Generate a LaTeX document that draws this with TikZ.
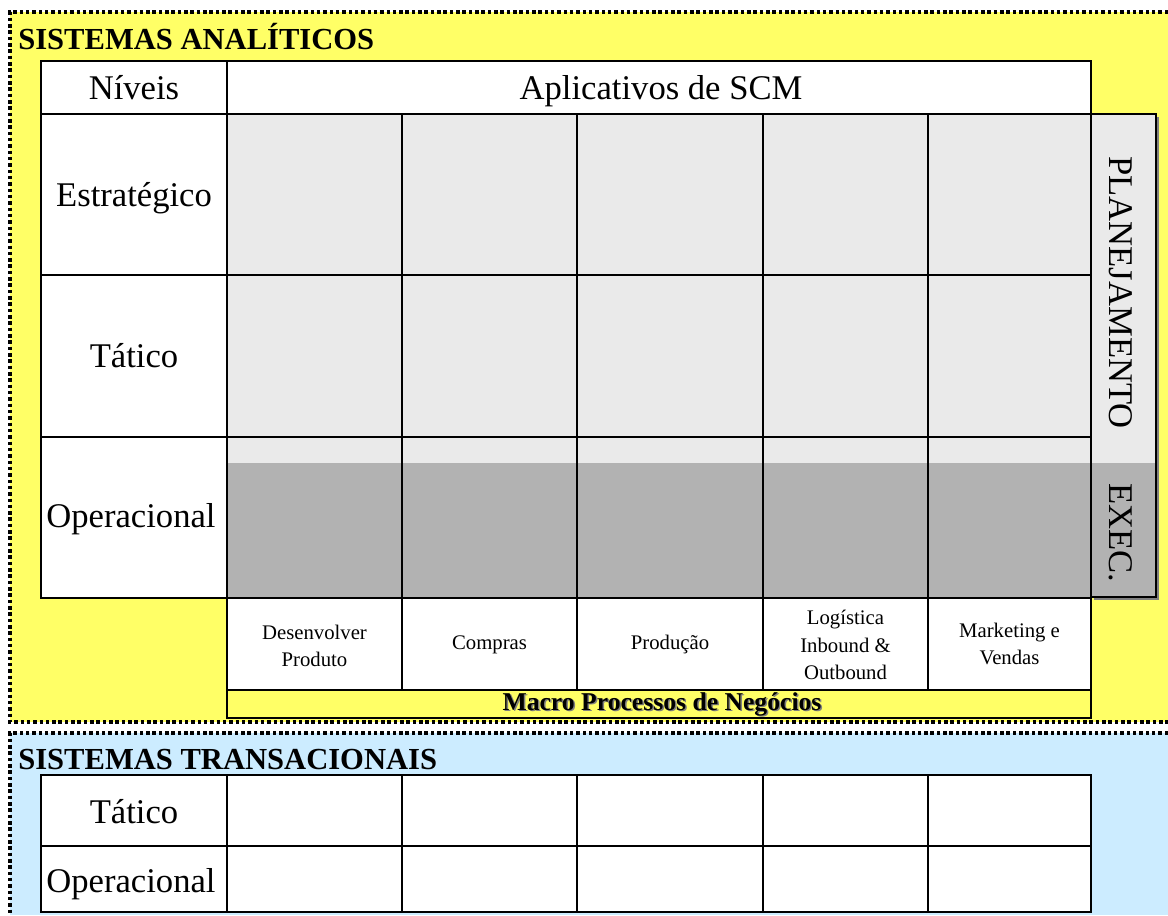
\documentclass[tikz,border=0pt]{standalone}
\usepackage{fontspec}
\setmainfont{Liberation Serif}
\usepackage{tikz}
\usetikzlibrary{backgrounds}
\definecolor{analitico}{RGB}{255,255,102}
\definecolor{transacional}{RGB}{204,236,255}
\definecolor{planclaro}{RGB}{234,234,234}
\definecolor{execescuro}{RGB}{178,178,178}
\tikzstyle{grade}=[draw=black, line width=0.9pt]
\tikzstyle{pontilhado}=[draw=black, line width=2.1pt, dash pattern=on 2pt off 1.6pt]
\tikzstyle{titulo}=[font=\fontsize{17.4}{20}\selectfont\bfseries, anchor=base west, inner sep=0pt]
\tikzstyle{nivel}=[font=\fontsize{19.7}{23}\selectfont, anchor=base, inner sep=0pt]
\tikzstyle{lateral}=[font=\fontsize{19.7}{23}\selectfont, anchor=base west, rotate=-90, inner sep=0pt]
\tikzstyle{processo}=[font=\fontsize{11.8}{15.5}\selectfont, align=center, inner sep=0pt]
\tikzstyle{macrotxt}=[font=\fontsize{14.6}{17}\selectfont\bfseries, inner sep=0pt]
\newcommand{\colunas}[2]{
	\foreach \x in {402,577,763,928}
		\draw[grade] (\x,#1) -- (\x,#2);
}

\begin{document}
\begin{tikzpicture}[x=0.02cm, y=-0.02cm]
	\useasboundingbox (0,0) rectangle (1168,915);
	\fill[analitico] (10,12) rectangle (1168,722);
	\fill[transacional] (10,733) rectangle (1168,915);
	\draw[pontilhado] (1168,12) -- (10,12) -- (10,722) -- (1168,722);
	\draw[pontilhado] (1168,733) -- (10,733) -- (10,915);
%
	\node[titulo] (tituloA) at (18,50) {SISTEMAS ANALÍTICOS};
	\filldraw[fill=white, grade] (41,61) rectangle (227,114);
	\filldraw[fill=white, grade] (227,61) rectangle (1091,114);
	\node[nivel] (niveis) at (134,100) {Níveis};
	\node[nivel] (aplicativos) at (661,100) {Aplicativos de SCM};
%
	\fill[white] (41,114) rectangle (227,598);
	\fill[planclaro] (227,114) rectangle (1091,463);
	\fill[execescuro] (227,463) rectangle (1091,598);
	\draw[grade] (41,275) -- (1091,275);
	\draw[grade] (41,437) -- (1091,437);
	\filldraw[fill=white, grade] (227,598) rectangle (1091,690);
	\colunas{114}{690}
	\draw[grade] (227,114) -- (227,598);
	\draw[grade] (41,114) rectangle (1091,598);
	\node[nivel] (estrategico) at (134,207) {Estratégico};
	\node[nivel] (tatico) at (134,367) {Tático};
	\node[nivel] (operacional) at (131,527) {Operacional};
%
	\fill[gray] (1094,117) rectangle (1159,600);
	\fill[planclaro] (1091,114) rectangle (1156,463);
	\fill[execescuro] (1091,463) rectangle (1156,597);
	\draw[grade] (1091,114) rectangle (1156,597);
	\node[lateral] (planejamento) at (1109,156) {PLANEJAMENTO};
	\node[lateral] (exec) at (1109,483) {EXEC.};
%
	\node[processo] (desenvolver) at (314.5,646) {Desenvolver\\Produto};
	\node[processo] (compras) at (489.5,645) {Compras};
	\node[processo] (producao) at (670,645) {Produção};
	\node[processo] (logistica) at (845.5,645) {Logística\\Inbound \&\\Outbound};
	\node[processo] (marketing) at (1009.5,644) {Marketing e\\Vendas};
	\filldraw[fill=analitico, grade] (227,690) rectangle (1091,718);
	\node[macrotxt, text=gray] at (663.5,705.5) {Macro Processos de Negócios};
	\node[macrotxt] (macro) at (662,704) {Macro Processos de Negócios};
%
	\node[titulo] (tituloT) at (18,769) {SISTEMAS TRANSACIONAIS};
	\filldraw[fill=white, grade] (41,775) rectangle (1091,912);
	\draw[grade] (41,846) -- (1091,846);
	\draw[grade] (227,775) -- (227,912);
	\colunas{775}{912}
	\node[nivel] (taticoT) at (134,823) {Tático};
	\node[nivel] (operacionalT) at (131,892) {Operacional};
\end{tikzpicture}
\end{document}
